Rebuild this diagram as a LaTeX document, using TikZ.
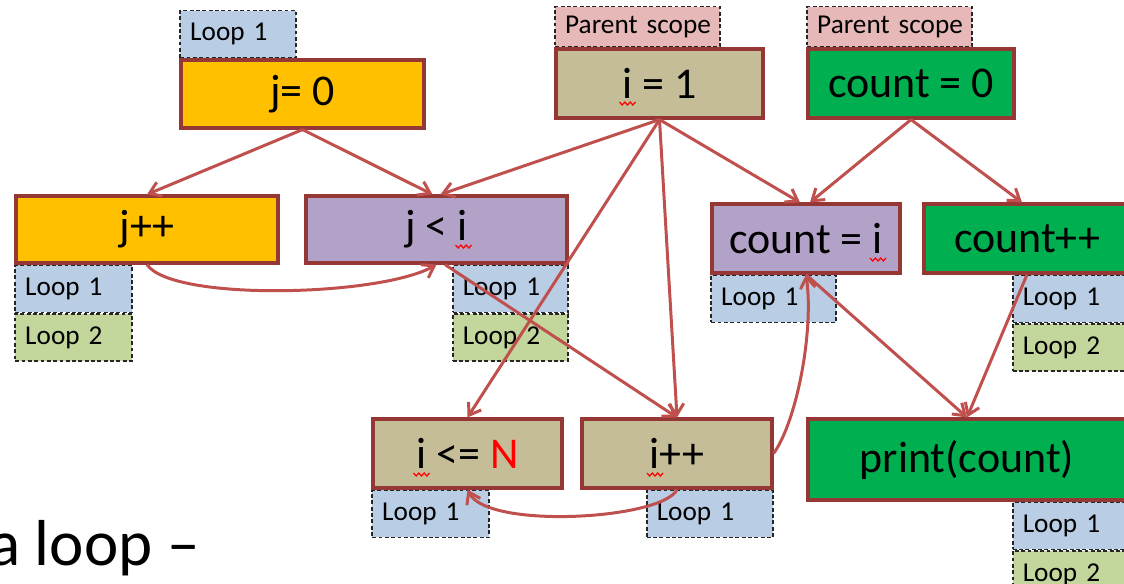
\documentclass[tikz,border=0pt]{standalone}
\usepackage{fontspec}
\setmainfont{Carlito}
\usepackage{xcolor}
\usepackage{tikz}
\usetikzlibrary{arrows.meta, positioning}
\definecolor{stmtred}{HTML}{953735}
\definecolor{flowred}{HTML}{C0504D}
\definecolor{initorange}{HTML}{FFC000}
\definecolor{loopkhaki}{HTML}{C4BD97}
\definecolor{countgreen}{HTML}{00B050}
\definecolor{testpurple}{HTML}{B3A2C7}
\definecolor{loopone}{HTML}{B9CDE5}
\definecolor{looptwo}{HTML}{C3D69B}
\definecolor{parentpink}{HTML}{E6B9B8}
% narrow word spacing in the scope tags
\newcommand\tagspacing{\spaceskip=0.12em\relax}

\begin{document}
\begin{tikzpicture}[
        x=0.02cm, y=-0.02cm,
        stmt/.style={
            rectangle,
            draw=stmtred,
            line width=1.8pt,
            inner sep=0pt,
            minimum height=1.38cm,
            font=\fontsize{25}{30}\selectfont
        },
        scopetag/.style={
            rectangle,
            draw=black!85,
            dash pattern=on 2.2pt off 1.4pt,
            line width=0.9pt,
            inner xsep=0.2cm, inner ysep=0pt,
            minimum height=0.94cm,
            text width=#1, align=left,
            font=\fontsize{15.5}{18}\selectfont\tagspacing
        },
        flow/.style={draw=flowred, line width=1.7pt, -{Straight Barb[length=2.2mm, width=3mm]}},
        % red wavy mark under a variable name
        squiggle/.pic={
            \draw[red, line width=0.7pt] (-8,-1.5) foreach \k in {1,2,3} { -- ++(2.67,3) -- ++(2.67,-3) };
        }
    ]
        \useasboundingbox (0,0) rectangle (1124,583);
        \fill[white] (0,0) rectangle (1124,583);
        \clip (0,0) rectangle (1124,583);

        % statements
        \node[stmt, fill=initorange, minimum width=4.86cm, minimum height=1.36cm] (j0) at (302.5,94) {j= 0};
        \node[stmt, fill=loopkhaki, minimum width=4.14cm] (i1) at (659.5,83.5) {i = 1};
        \node[stmt, fill=countgreen, minimum width=4.12cm] (c0) at (911,83.5) {count = 0};

        \node[stmt, fill=initorange, minimum width=5.24cm, minimum height=1.34cm] (jinc) at (147,229.5) {j++};
        \node[stmt, fill=testpurple, minimum width=5.22cm, minimum height=1.34cm] (jtest) at (436.5,229.5) {j < i};
        \node[stmt, fill=testpurple, minimum width=3.76cm] (cset) at (806,238.5) {count = i};
        \node[stmt, fill=countgreen, minimum width=4.12cm] (cinc) at (1027,238.5) {count++};

        \node[stmt, fill=loopkhaki, minimum width=3.78cm] (itest) at (467.5,453.5) {i <= \textcolor{red}{N}};
        \node[stmt, fill=loopkhaki, minimum width=3.8cm] (iinc) at (677,453.5) {i++};
        \node[stmt, fill=countgreen, minimum width=6.36cm, minimum height=1.62cm] (out) at (967,459.5) {print(count)};

        % wavy marks under i
        \pic at ([shift={(-32,20)}]i1.center) {squiggle};
        \pic at ([shift={(27,17)}]jtest.center) {squiggle};
        \pic at ([shift={(72,21)}]cset.center) {squiggle};
        \pic at ([shift={(-46,21)}]itest.center) {squiggle};
        \pic at ([shift={(-22,21)}]iinc.center) {squiggle};

        % scope tags
        \coordinate (tagcol) at (1012,0);
        \node[scopetag=1.92cm, fill=loopone, anchor=south west] (j0l1) at (j0.north west) {Loop 1};
        \node[scopetag=2.9cm, fill=parentpink, minimum height=0.8cm, anchor=south west] (i1p) at (i1.north west) {Parent~scope};
        \node[scopetag=2.9cm, fill=parentpink, minimum height=0.8cm, anchor=south west] (c0p) at (c0.north west) {Parent~scope};

        \node[scopetag=1.94cm, fill=loopone, anchor=north west] (jincl1) at (jinc.south west) {Loop 1};
        \node[scopetag=1.94cm, fill=looptwo, anchor=north west] (jincl2) at (jincl1.south west) {Loop 2};
        \node[scopetag=1.9cm, fill=loopone, anchor=north east] (jtestl1) at (jtest.south east) {Loop 1};
        \node[scopetag=1.9cm, fill=looptwo, anchor=north east] (jtestl2) at (jtestl1.south east) {Loop 2};
        \node[scopetag=2.1cm, fill=loopone, anchor=north west] (csetl1) at (cset.south west) {Loop 1};
        \node[scopetag=2.1cm, fill=loopone, anchor=north west] (cincl1) at (cinc.south west -| tagcol) {Loop 1};
        \node[scopetag=2.1cm, fill=looptwo, anchor=north west] (cincl2) at (cincl1.south west) {Loop 2};

        \node[scopetag=1.94cm, fill=loopone, anchor=north west] (itestl1) at (itest.south west) {Loop 1};
        \node[scopetag=2.12cm, fill=loopone, anchor=north east] (iincl1) at (iinc.south east) {Loop 1};
        \node[scopetag=2.1cm, fill=loopone, anchor=north west] (outl1) at (out.south west -| tagcol) {Loop 1};
        \node[scopetag=2.1cm, fill=looptwo, anchor=north west] (outl2) at (outl1.south west) {Loop 2};

        % data flow
        \draw[flow] (j0.south) -- (jinc.north);
        \draw[flow] (j0.south) -- ([xshift=-0.8mm]jtest.north);
        \draw[flow] (i1.south) -- ([xshift=0.8mm]jtest.north);
        \draw[flow] (i1.south) -- (itest.north);
        \draw[flow] (i1.south) -- (iinc.north);
        \draw[flow] (i1.south) -- ([xshift=-1.2mm]cset.north);
        \draw[flow] (c0.south) -- ([xshift=0.8mm]cset.north);
        \draw[flow] (c0.south) -- ([xshift=-1mm]cinc.north);
        \draw[flow] ([xshift=1.7mm]jtest.south) -- (iinc.north);
        \draw[flow] (cset.south) -- (out.north);
        \draw[flow] (cinc.south) -- (out.north);

        % back edges
        \draw[flow] (jinc.south) .. controls +(25,37) and +(-57,32) .. (jtest.south);
        \draw[flow] (iinc.south) .. controls +(-15,30) and +(20,40) .. (itest.south);
        \draw[flow] (iinc.east) .. controls +(23,-32) and +(8,57) .. (cset.south);

        \node[anchor=base east, inner sep=0pt, font=\fontsize{37}{44}\selectfont] (caption) at (200,565) {a loop –};
    \end{tikzpicture}
\end{document}
